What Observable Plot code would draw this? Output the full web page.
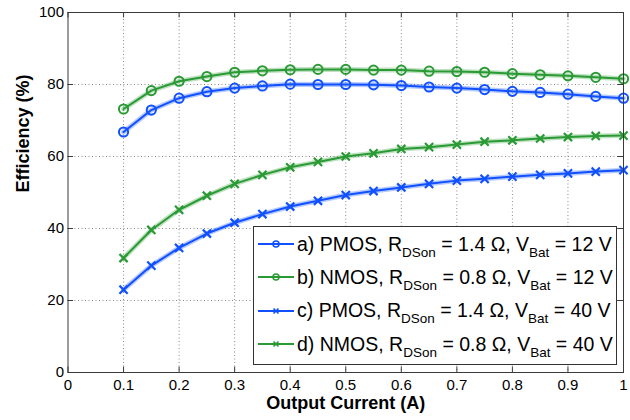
<!DOCTYPE html>
<html>
<head>
<meta charset="utf-8">
<script src="https://cdn.jsdelivr.net/npm/d3@7"></script>
<script src="https://cdn.jsdelivr.net/npm/@observablehq/plot@0.6"></script>
<style>
  body { margin: 0; background: #fff; }
  #wrap { position: relative; width: 630px; height: 420px; font-family: "Liberation Sans", Arial, Helvetica, sans-serif; }
  #legend { position: absolute; left: 253px; top: 226px; width: 362px; height: 137px; border: 1px solid #333; background: #fff; box-sizing: content-box; }
  .row { position: absolute; left: 4px; height: 30px; display: flex; align-items: center; font-size: 19.5px; color: #000; white-space: nowrap; }
  .row svg { margin-right: 3px; }
  .row sub { font-size: 13.5px; vertical-align: -6px; line-height: 0; }
</style>
</head>
<body>
<div id="wrap"></div>
<script>
const current = [0.1, 0.15, 0.2, 0.25, 0.3, 0.35, 0.4, 0.45, 0.5, 0.55, 0.6, 0.65, 0.7, 0.75, 0.8, 0.85, 0.9, 0.95, 1.0];
const pmos12 = [66.8, 72.9, 76.2, 78.0, 79.0, 79.6, 80.1, 80.0, 80.0, 79.9, 79.7, 79.3, 79.0, 78.6, 78.1, 77.8, 77.3, 76.7, 76.2];
const nmos12 = [73.2, 78.3, 80.9, 82.2, 83.4, 83.8, 84.1, 84.2, 84.2, 84.0, 84.0, 83.7, 83.6, 83.4, 83.0, 82.7, 82.4, 82.0, 81.6];
const pmos40 = [23.0, 29.7, 34.6, 38.6, 41.6, 44.0, 46.1, 47.7, 49.3, 50.4, 51.4, 52.4, 53.3, 53.8, 54.4, 54.9, 55.3, 55.8, 56.2];
const nmos40 = [31.8, 39.6, 45.2, 49.1, 52.4, 54.9, 57.0, 58.5, 60.0, 60.9, 62.1, 62.6, 63.3, 64.1, 64.5, 65.0, 65.4, 65.7, 65.8];

const seriesNames = ["a", "b", "c", "d"];
const seriesLabels = [
  "a) PMOS, R<sub>DSon</sub> = 1.4 Ω, V<sub>Bat</sub> = 12 V",
  "b) NMOS, R<sub>DSon</sub> = 0.8 Ω, V<sub>Bat</sub> = 12 V",
  "c) PMOS, R<sub>DSon</sub> = 1.4 Ω, V<sub>Bat</sub> = 40 V",
  "d) NMOS, R<sub>DSon</sub> = 0.8 Ω, V<sub>Bat</sub> = 40 V"
];
const seriesValues = [pmos12, nmos12, pmos40, nmos40];
const seriesColors = ["#1050ff", "#2a9a34", "#1050ff", "#2a9a34"];
const seriesSymbols = ["circle", "circle", "times", "times"];

const xTicks = [0, 0.1, 0.2, 0.3, 0.4, 0.5, 0.6, 0.7, 0.8, 0.9, 1];
const xTickLabels = ["0", "0.1", "0.2", "0.3", "0.4", "0.5", "0.6", "0.7", "0.8", "0.9", "1"];
const yTicks = [0, 20, 40, 60, 80, 100];
const yTickLabels = ["0", "20", "40", "60", "80", "100"];
const xLabel = "Output Current (A)";
const yLabel = "Efficiency (%)";

const rows = [];
seriesNames.forEach((s, k) => current.forEach((x, i) => rows.push({series: s, x, y: seriesValues[k][i], color: seriesColors[k], symbol: seriesSymbols[k]})));

const gridX = xTicks.slice(1, -1), gridY = yTicks.slice(1, -1);

const chart = Plot.plot({
  width: 630, height: 420,
  marginLeft: 67.5, marginRight: 7, marginTop: 12, marginBottom: 48,
  x: {domain: [0, 1]},
  y: {domain: [0, 100]},
  style: {fontFamily: "'Liberation Sans', Arial, Helvetica, sans-serif", fontSize: "15px", color: "#000", background: "#fff"},
  marks: [
    Plot.ruleX(gridX, {stroke: "#8a8a8a", strokeDasharray: "1,2.5", strokeWidth: 1}),
    Plot.ruleY(gridY, {stroke: "#8a8a8a", strokeDasharray: "1,2.5", strokeWidth: 1}),
    Plot.line(rows, {x: "x", y: "y", z: "series", stroke: "color", strokeWidth: 5, strokeOpacity: 0.3}),
    Plot.line(rows, {x: "x", y: "y", z: "series", stroke: "color", strokeWidth: 2}),
    Plot.dot(rows.filter(d => d.symbol === "circle"), {x: "x", y: "y", stroke: "color", symbol: "circle", r: 4.6, strokeWidth: 2, fill: "none"}),
    Plot.dot(rows.filter(d => d.symbol === "times"), {x: "x", y: "y", stroke: "color", symbol: "times", r: 3.8, strokeWidth: 2.2}),
    Plot.frame({stroke: "#3a3a3a", strokeWidth: 1}),
    Plot.ruleX(xTicks, {y1: 0, y2: 1.5, stroke: "#3a3a3a"}),
    Plot.ruleX(xTicks, {y1: 98.5, y2: 100, stroke: "#3a3a3a"}),
    Plot.ruleY(yTicks, {x1: 0, x2: 0.01, stroke: "#3a3a3a"}),
    Plot.ruleY(yTicks, {x1: 0.99, x2: 1, stroke: "#3a3a3a"}),
    Plot.axisX({ticks: xTicks, tickFormat: (d) => xTickLabels[xTicks.indexOf(d)], tickSize: 0, tickPadding: 7, label: null, fontSize: 15}),
    Plot.axisY({ticks: yTicks, tickFormat: (d) => yTickLabels[yTicks.indexOf(d)], tickSize: 0, tickPadding: 4, label: null, fontSize: 15}),
    Plot.text([xLabel], {frameAnchor: "bottom", dy: 36, text: d => d, fontWeight: "bold", fontSize: 18}),
    Plot.text([yLabel], {frameAnchor: "left", dx: -45, rotate: -90, text: d => d, fontWeight: "bold", fontSize: 18})
  ]
});

const wrap = document.getElementById("wrap");
wrap.appendChild(chart);

const legend = document.createElement("div");
legend.id = "legend";
seriesLabels.forEach((lab, k) => {
  const row = document.createElement("div");
  row.className = "row";
  row.style.top = (2 + k * 33.4) + "px";
  const c = seriesColors[k];
  const marker = seriesSymbols[k] === "circle"
    ? `<circle cx="18" cy="6" r="3" fill="none" stroke="${c}" stroke-width="1.5"/>`
    : `<path d="M15.5 3.5 L20.5 8.5 M20.5 3.5 L15.5 8.5" stroke="${c}" stroke-width="1.6"/>`;
  row.innerHTML = `<svg width="36" height="12"><line x1="0" y1="6" x2="36" y2="6" stroke="${c}" stroke-width="2"/>${marker}</svg><span>${lab}</span>`;
  legend.appendChild(row);
});
wrap.appendChild(legend);
</script>
</body>
</html>
